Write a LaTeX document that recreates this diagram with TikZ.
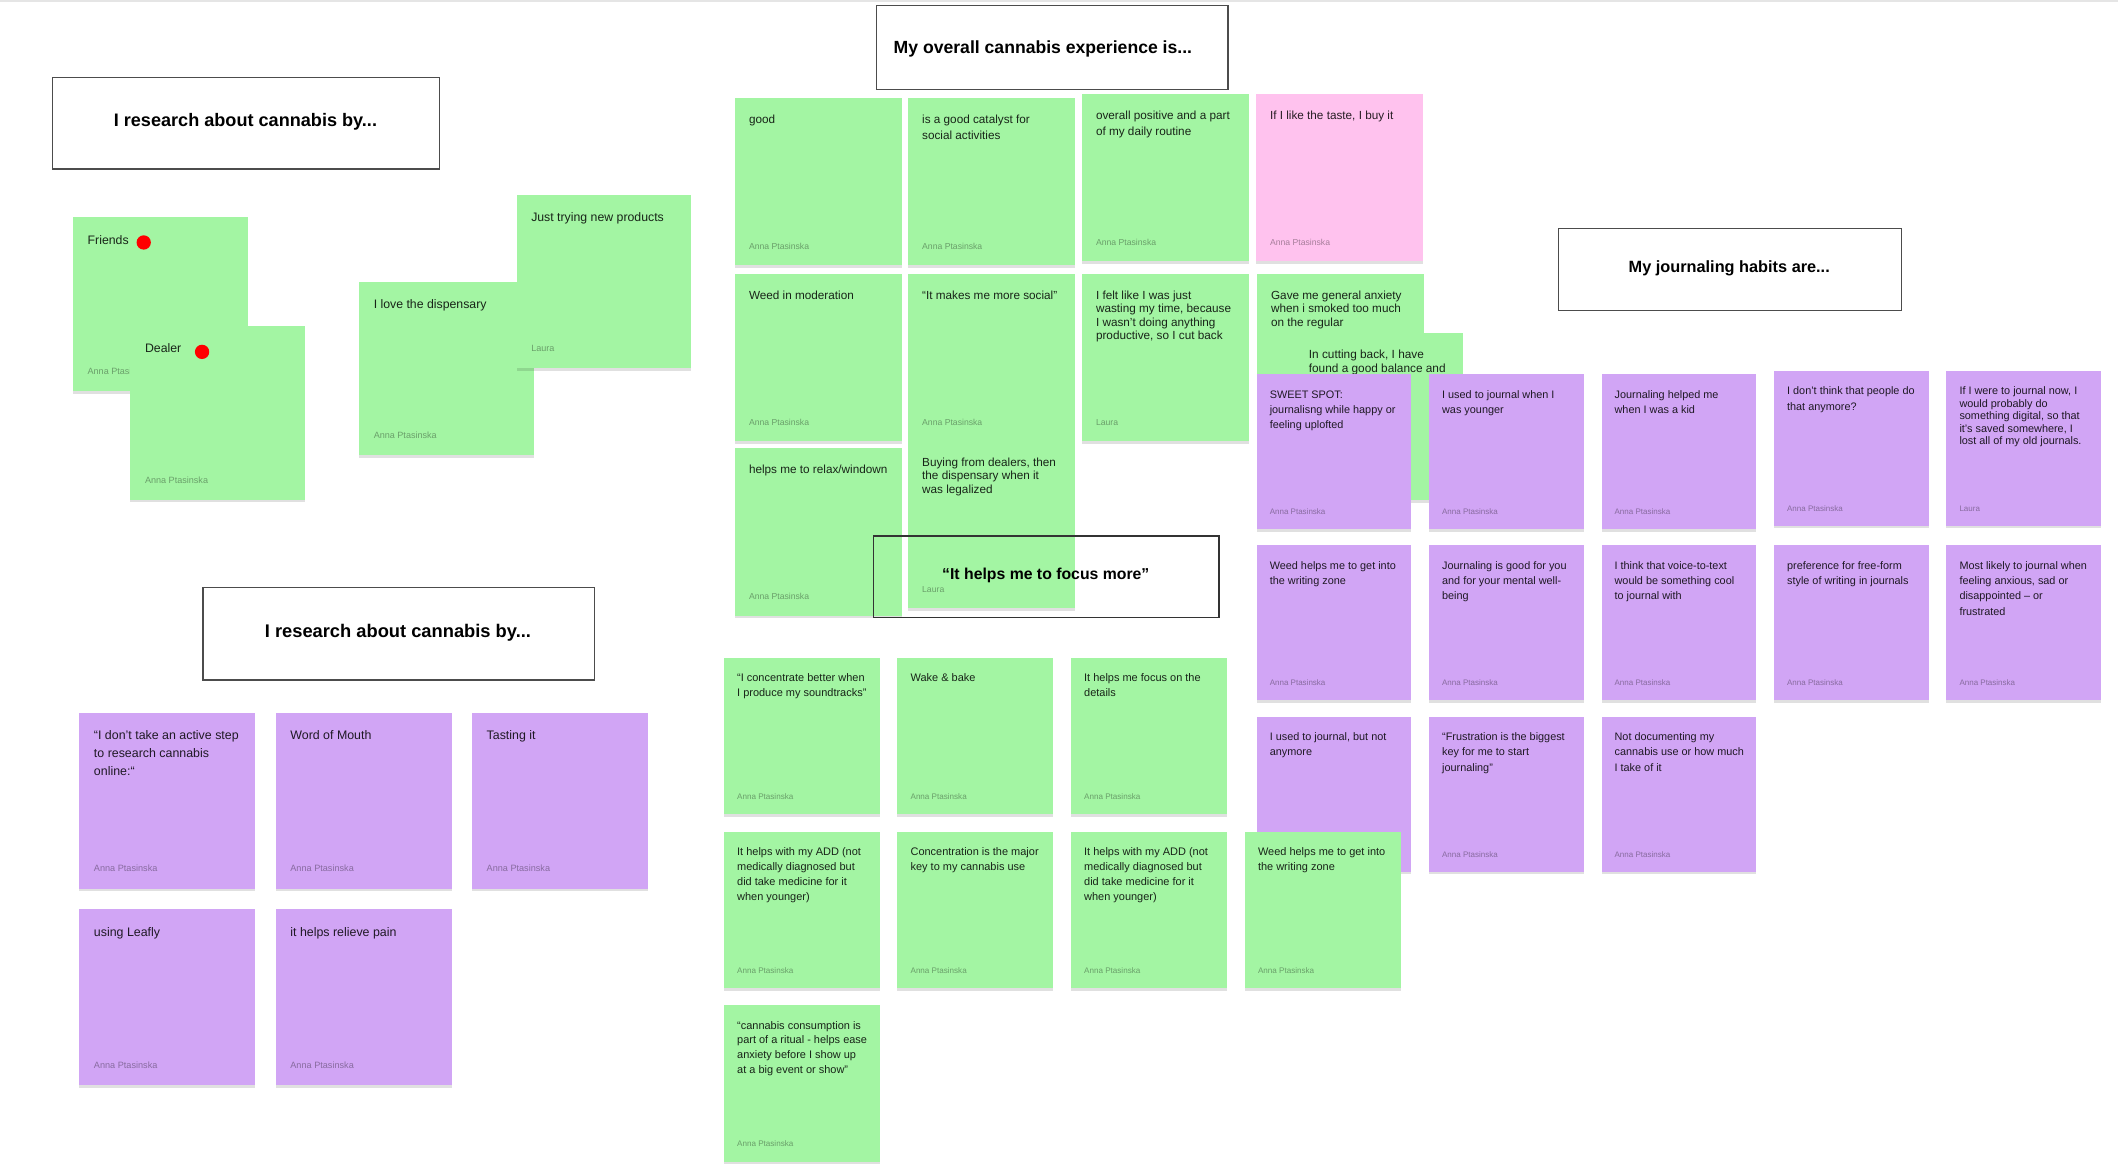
\documentclass[tikz,border=0pt]{standalone}
\usepackage{fontspec}
\setmainfont{Liberation Sans}
\usetikzlibrary{calc,shadows}
\definecolor{notegreen}{RGB}{163,245,163}
\definecolor{notepurple}{RGB}{209,165,245}
\definecolor{notepink}{RGB}{255,194,238}
\def\unitpx{1.3508pt}
\tikzset{
  note/.style={rectangle, draw=none, inner sep=0pt, outer sep=0pt,
    drop shadow={shadow xshift=0pt, shadow yshift=-2.5pt, opacity=0.12, fill=black}},
  notetext/.style={inner sep=0pt, text=black, text opacity=0.85},
  noteauthor/.style={inner sep=0pt, text=black, text opacity=0.35},
  titlebox/.style={rectangle, draw=black!70, line width=1.2pt, fill=white, inner sep=0pt},
  openbox/.style={rectangle, draw=black!80, line width=1.1pt, inner sep=0pt},
  titletext/.style={inner sep=0pt, text=black},
  reddot/.style={circle, fill=red, draw=none, inner sep=0pt, minimum size=10.6*\unitpx},
}
% #1 name, #2 x, #3 y, #4 w, #5 h, #6 colour, #7 text, #8 author, #9 leading factor
\newcommand\stickynote[9]{%
  \pgfmathsetmacro\nfs{0.095*#4}%
  \pgfmathsetmacro\nld{\nfs*#9}%
  \pgfmathsetmacro\nas{0.07*#4}%
  \node[note, fill=#6, minimum width=#4*\unitpx, minimum height=#5*\unitpx, anchor=north west] (#1) at (#2,#3) {};
  \node[notetext, anchor=base west, font=\fontsize{\nfs pt}{\nld pt}\selectfont] (#1-t)
    at ($(#1.north west)+(0.083*#4,0.153*#5)$) {\begin{tabular}[t]{@{}l@{}}#7\end{tabular}};
  \node[noteauthor, anchor=base west, font=\fontsize{\nas pt}{\nas pt}\selectfont] (#1-a)
    at ($(#1.north west)+(0.083*#4,0.905*#5)$) {#8};
}
\begin{document}
\begin{tikzpicture}[x=1.3508pt, y=-1.3508pt]
\useasboundingbox (0,0) rectangle (1568,869.1);
\fill[white] (0,0) rectangle (1568,869.1);
\fill[black!10] (0,0) rectangle (1568,1.2);

% ---------- title boxes (filled) ----------
\node[titlebox, minimum width=286.6*\unitpx, minimum height=67.7*\unitpx, anchor=north west] (t1) at (38.4,57) {};
\node[titletext, anchor=base, font=\fontsize{18.1pt}{20pt}\selectfont\bfseries] (t1-text) at (181.7,93.3) {I research about cannabis by...};

\node[titlebox, minimum width=260.2*\unitpx, minimum height=62*\unitpx, anchor=north west] (t2) at (648.5,3.9) {};
\node[titletext, anchor=base west, font=\fontsize{17.6pt}{20pt}\selectfont\bfseries] (t2-text) at (661.5,39.3) {My overall cannabis experience is...};

\node[titlebox, minimum width=253.6*\unitpx, minimum height=60.5*\unitpx, anchor=north west] (t3) at (1153.4,169) {};
\node[titletext, anchor=base, font=\fontsize{16.3pt}{19pt}\selectfont\bfseries] (t3-text) at (1280.2,201.9) {My journaling habits are...};

\node[titlebox, minimum width=289.6*\unitpx, minimum height=68.5*\unitpx, anchor=north west] (t4) at (149.8,434.5) {};
\node[titletext, anchor=base, font=\fontsize{18.3pt}{20pt}\selectfont\bfseries] (t4-text) at (294.6,471.6) {I research about cannabis by...};

% ---------- left top group ----------
\stickynote{friends}{54}{161}{129.5}{128.5}{notegreen}{Friends}{Anna Ptasinska}{1.4}
\node[reddot] (friends-dot) at (106.4,179.5) {};
\stickynote{dealer}{96.5}{241.5}{129.5}{128.5}{notegreen}{Dealer}{Anna Ptasinska}{1.4}
\node[reddot] (dealer-dot) at (149.6,260.5) {};
\stickynote{love}{265.8}{208.5}{129.5}{128.5}{notegreen}{I love the dispensary}{Anna Ptasinska}{1.4}
\stickynote{trying}{382.4}{144}{129.5}{128.5}{notegreen}{Just trying new products}{Laura}{1.4}

% ---------- cannabis experience group ----------
\stickynote{good}{544.1}{72.5}{123.6}{124}{notegreen}{good}{Anna Ptasinska}{1.38}
\stickynote{catalyst}{672.3}{72.5}{123.6}{124}{notegreen}{is a good catalyst for\\social activities}{Anna Ptasinska}{1.38}
\stickynote{overall}{801}{69.5}{123.6}{124}{notegreen}{overall positive and a part\\of my daily routine}{Anna Ptasinska}{1.38}
\stickynote{taste}{929.8}{69.5}{123.6}{124}{notepink}{If I like the taste, I buy it}{Anna Ptasinska}{1.38}
\stickynote{moderation}{544.1}{202.5}{123.6}{124}{notegreen}{Weed in moderation}{Anna Ptasinska}{1.38}
\stickynote{social}{672.3}{202.5}{123.6}{124}{notegreen}{“It makes me more social”}{Anna Ptasinska}{1.38}
\stickynote{felt}{801}{202.5}{123.6}{124}{notegreen}{I felt like I was just\\wasting my time, because\\I wasn’t doing anything\\productive, so I cut back}{Laura}{1.15}
\stickynote{anxiety}{930.6}{202.5}{123.6}{124}{notegreen}{Gave me general anxiety\\when i smoked too much\\on the regular}{}{1.15}
\stickynote{cutting}{958.5}{246.5}{124.5}{124}{notegreen}{In cutting back, I have\\found a good balance and}{}{1.15}
\stickynote{buying}{672.3}{326.3}{123.6}{124}{notegreen}{Buying from dealers, then\\the dispensary when it\\was legalized}{Laura}{1.15}
\stickynote{relax}{544.1}{331.7}{123.6}{124}{notegreen}{helps me to relax/windown}{Anna Ptasinska}{1.38}

% open title box over the notes
\node[openbox, minimum width=255.6*\unitpx, minimum height=60.4*\unitpx, anchor=north west] (t5) at (646.4,396.4) {};
\node[titletext, anchor=base, font=\fontsize{15.8pt}{18pt}\selectfont\bfseries] (t5-text) at (774.2,429) {“It helps me to focus more”};

% ---------- journaling group ----------
\stickynote{sweet}{930.4}{277.1}{114.4}{114.8}{notepurple}{SWEET SPOT:\\journalisng while happy or\\feeling uplofted}{Anna Ptasinska}{1.42}
\stickynote{younger}{1058}{277.1}{114.4}{114.8}{notepurple}{I used to journal when I\\was younger}{Anna Ptasinska}{1.42}
\stickynote{kid}{1185.7}{277.1}{114.4}{114.8}{notepurple}{Journaling helped me\\when I was a kid}{Anna Ptasinska}{1.42}
\stickynote{people}{1313.4}{274.6}{114.4}{114.8}{notepurple}{I don’t think that people do\\that anymore?}{Anna Ptasinska}{1.42}
\stickynote{digital}{1441}{274.6}{114.4}{114.8}{notepurple}{If I were to journal now, I\\would probably do\\something digital, so that\\it’s saved somewhere, I\\lost all of my old journals.}{Laura}{1.15}

\stickynote{zone}{930.4}{403.7}{114.4}{114.8}{notepurple}{Weed helps me to get into\\the writing zone}{Anna Ptasinska}{1.42}
\stickynote{wellbeing}{1058}{403.7}{114.4}{114.8}{notepurple}{Journaling is good for you\\and for your mental well-\\being}{Anna Ptasinska}{1.42}
\stickynote{voice}{1185.7}{403.7}{114.4}{114.8}{notepurple}{I think that voice-to-text\\would be something cool\\to journal with}{Anna Ptasinska}{1.42}
\stickynote{freeform}{1313.4}{403.7}{114.4}{114.8}{notepurple}{preference for free-form\\style of writing in journals}{Anna Ptasinska}{1.42}
\stickynote{anxious}{1441}{403.7}{114.4}{114.8}{notepurple}{Most likely to journal when\\feeling anxious, sad or\\disappointed – or\\frustrated}{Anna Ptasinska}{1.42}

\stickynote{notanymore}{930.4}{530.6}{114.4}{114.8}{notepurple}{I used to journal, but not\\anymore}{}{1.42}
\stickynote{frustration}{1058}{530.6}{114.4}{114.8}{notepurple}{“Frustration is the biggest\\key for me to start\\journaling”}{Anna Ptasinska}{1.42}
\stickynote{documenting}{1185.7}{530.6}{114.4}{114.8}{notepurple}{Not documenting my\\cannabis use or how much\\I take of it}{Anna Ptasinska}{1.42}

% ---------- focus group ----------
\stickynote{soundtracks}{536}{487.1}{115.5}{115.8}{notegreen}{“I concentrate better when\\I produce my soundtracks”}{Anna Ptasinska}{1.35}
\stickynote{wake}{664.4}{487.1}{115.5}{115.8}{notegreen}{Wake \& bake}{Anna Ptasinska}{1.35}
\stickynote{details}{792.9}{487.1}{115.5}{115.8}{notegreen}{It helps me focus on the\\details}{Anna Ptasinska}{1.35}
\stickynote{addone}{536}{615.8}{115.5}{115.8}{notegreen}{It helps with my ADD (not\\medically diagnosed but\\did take medicine for it\\when younger)}{Anna Ptasinska}{1.35}
\stickynote{concentration}{664.4}{615.8}{115.5}{115.8}{notegreen}{Concentration is the major\\key to my cannabis use}{Anna Ptasinska}{1.35}
\stickynote{addtwo}{792.9}{615.8}{115.5}{115.8}{notegreen}{It helps with my ADD (not\\medically diagnosed but\\did take medicine for it\\when younger)}{Anna Ptasinska}{1.35}
\stickynote{zonegreen}{921.6}{615.8}{115.5}{115.8}{notegreen}{Weed helps me to get into\\the writing zone}{Anna Ptasinska}{1.35}
\stickynote{ritual}{536}{744.1}{115.5}{115.8}{notegreen}{“cannabis consumption is\\part of a ritual - helps ease\\anxiety before I show up\\at a big event or show”}{Anna Ptasinska}{1.35}

% ---------- research group 2 ----------
\stickynote{active}{58.6}{527.6}{130.5}{130.3}{notepurple}{“I don’t take an active step\\to research cannabis\\online:“}{Anna Ptasinska}{1.43}
\stickynote{mouth}{204}{527.6}{130.5}{130.3}{notepurple}{Word of Mouth}{Anna Ptasinska}{1.43}
\stickynote{tasting}{349.3}{527.6}{130.5}{130.3}{notepurple}{Tasting it}{Anna Ptasinska}{1.43}
\stickynote{leafly}{58.6}{673}{130.5}{130.3}{notepurple}{using Leafly}{Anna Ptasinska}{1.43}
\stickynote{pain}{204}{673}{130.5}{130.3}{notepurple}{it helps relieve pain}{Anna Ptasinska}{1.43}
\end{tikzpicture}
\end{document}
